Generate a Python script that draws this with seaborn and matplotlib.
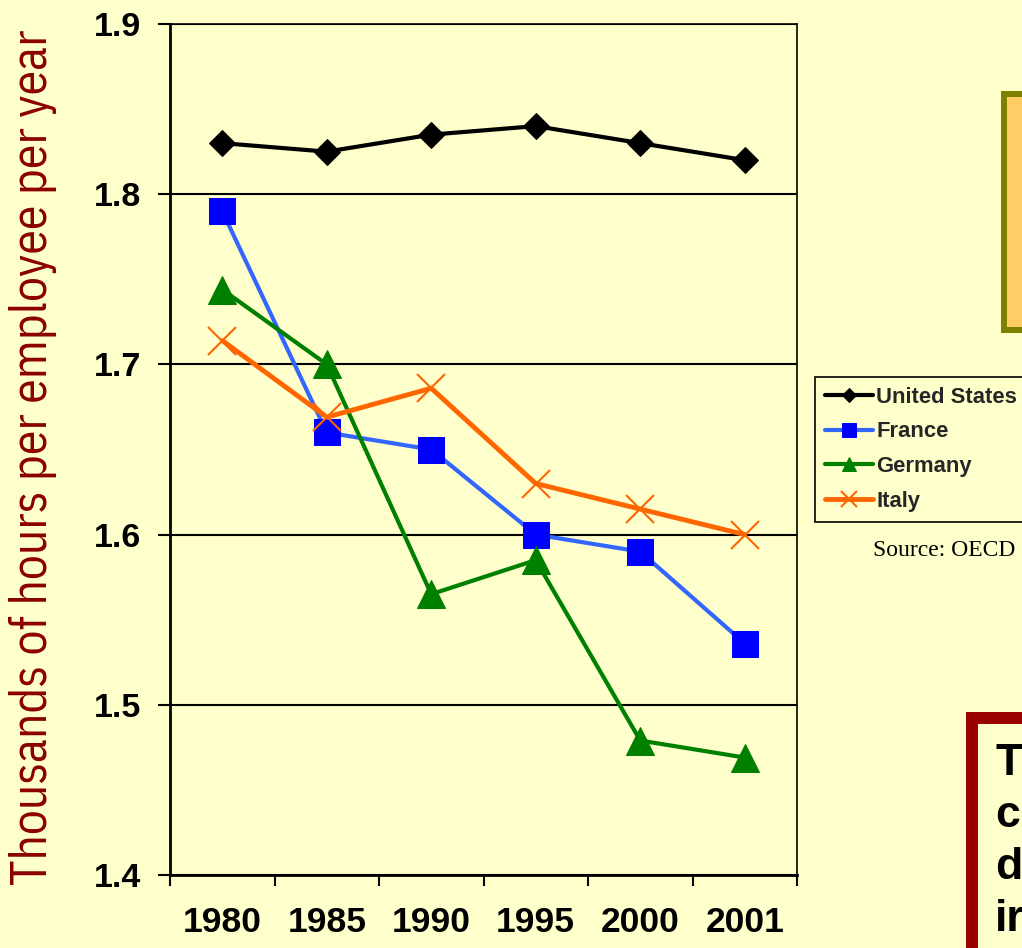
import matplotlib
matplotlib.use("Agg")
import matplotlib.pyplot as plt
from matplotlib import font_manager
from matplotlib.patches import Rectangle
import numpy as np
import pandas as pd
import seaborn as sns


YEARS = ["1980", "1985", "1990", "1995", "2000", "2001"]
COUNTRIES = ["United States", "France", "Germany", "Italy"]
US = [1.830, 1.825, 1.835, 1.840, 1.830, 1.820]
FRANCE = [1.790, 1.660, 1.650, 1.600, 1.590, 1.536]
GERMANY = [1.744, 1.700, 1.565, 1.585, 1.479, 1.469]
ITALY = [1.714, 1.669, 1.686, 1.630, 1.615, 1.600]
Y_TICKS = [1.4, 1.5, 1.6, 1.7, 1.8, 1.9]
BOX_LINES = ["T", "c", "d", "ir"]

BG = "#FFFFCC"
W, H = 1022, 948

STYLES = {
    "United States": dict(color="black", marker="D", markersize=13.5,
                          markerfacecolor="black", markeredgecolor="black", linewidth=3),
    "France": dict(color="#3366FF", marker="s", markersize=19,
                   markerfacecolor="#0000FF", markeredgecolor="#0000FF", linewidth=3),
    "Germany": dict(color="#008000", marker="^", markersize=20,
                    markerfacecolor="#008000", markeredgecolor="#008000", linewidth=3),
    "Italy": dict(color="#FF6600", marker="x", markersize=20, markeredgewidth=1.5,
                  markeredgecolor="#FF6600", linewidth=3.5),
}
LEGEND_MS = {"United States": 7.5, "France": 9.5, "Germany": 9.5, "Italy": 11}


def pick_family(candidates, fallback):
    names = {f.name for f in font_manager.fontManager.ttflist}
    for name in candidates:
        if name in names:
            return [name, fallback]
    return [fallback]


def build_frame():
    values = {"United States": US, "France": FRANCE, "Germany": GERMANY, "Italy": ITALY}
    rows = []
    for country in COUNTRIES:
        for year, v in zip(YEARS, values[country]):
            rows.append({"year": year, "hours": v, "country": country})
    return pd.DataFrame(rows)


def main():
    sns.set_theme(style="ticks")
    plt.rcParams["font.family"] = ["Liberation Sans", "DejaVu Sans"]
    label_family = pick_family(["IBM Plex Sans Condensed", "Open Sans Condensed"], "DejaVu Sans")

    df = build_frame()

    fig = plt.figure(figsize=(W / 100, H / 100), dpi=100, facecolor=BG)
    ax = fig.add_axes([170 / W, 73 / H, 627 / W, 851 / H])
    ax.set_facecolor(BG)

    for country in COUNTRIES:
        sub = df[df["country"] == country]
        sns.lineplot(data=sub, x="year", y="hours", ax=ax, sort=False,
                     label=country, **STYLES[country])

    ax.set_xlim(-0.5, len(YEARS) - 0.5)
    ax.set_ylim(1.4, 1.9)
    ax.set_yticks(Y_TICKS)
    ax.set_yticklabels([f"{t:.1f}" for t in Y_TICKS], fontsize=24.5, fontweight="bold",
                       color="black")
    ax.set_xticks(range(len(YEARS)))
    ax.set_xticklabels(YEARS, fontsize=25.5, fontweight="bold", color="black")
    ax.set_xticks(np.arange(-0.5, len(YEARS), 1), minor=True)
    ax.tick_params(axis="x", which="major", length=0, pad=22)
    ax.tick_params(axis="x", which="minor", length=8, width=1.5, color="black",
                   direction="out")
    ax.tick_params(axis="y", length=9, width=1.5, color="black", direction="out", pad=12)
    ax.set_xlabel("")
    ax.set_ylabel("")

    ax.grid(False)
    ax.yaxis.grid(True, color="black", linewidth=1.5)
    ax.set_axisbelow(True)
    for side in ["left", "bottom"]:
        ax.spines[side].set_color("black")
        ax.spines[side].set_linewidth(2)
    for side in ["top", "right"]:
        ax.spines[side].set_visible(True)
        ax.spines[side].set_color("black")
        ax.spines[side].set_linewidth(1.2)

    leg = ax.legend(loc="upper left", bbox_to_anchor=(815 / W, 1 - 377 / H),
                    bbox_transform=fig.transFigure, frameon=True, fancybox=False,
                    prop={"weight": "bold", "size": 15.8}, handlelength=2.2,
                    handletextpad=0.15, labelspacing=0.62, borderpad=0.45,
                    borderaxespad=0)
    leg.get_frame().set_facecolor(BG)
    leg.get_frame().set_edgecolor("black")
    leg.get_frame().set_linewidth(1.2)
    leg.get_frame().set_alpha(1)
    for handle, country in zip(leg.legend_handles, COUNTRIES):
        handle.set_markersize(LEGEND_MS[country])

    fig.text(33 / W, 1 - 457 / H, "Thousands of hours per employee per year",
             rotation=90, ha="center", va="center", color="#8B0000",
             fontsize=35.7, fontweight="normal", family=label_family)

    fig.text(873 / W, 1 - 551 / H, "Source: OECD", ha="left", va="center",
             fontsize=17, family=["Liberation Serif", "DejaVu Serif"], color="black")

    # orange box, top right (cut off at the edge)
    fig.patches.append(Rectangle((1004 / W, 1 - 330 / H), 60 / W, 236 / H,
                                 transform=fig.transFigure, facecolor="#FFCC66",
                                 edgecolor="#808000", linewidth=4.3))
    # red box, bottom right (cut off at the edge)
    fig.patches.append(Rectangle((972 / W, -20 / H), 80 / W, (948 - 718 + 20) / H,
                                 transform=fig.transFigure, facecolor=BG,
                                 edgecolor="#990000", linewidth=8.6))
    for i, line in enumerate(BOX_LINES):
        fig.text(995 / W, 1 - (775 + 52 * i) / H, line, ha="left", va="baseline",
                 fontsize=32, fontweight="bold", color="black")

    fig.savefig("out.png", dpi=100, facecolor=BG)
    plt.close(fig)


if __name__ == "__main__":
    main()
